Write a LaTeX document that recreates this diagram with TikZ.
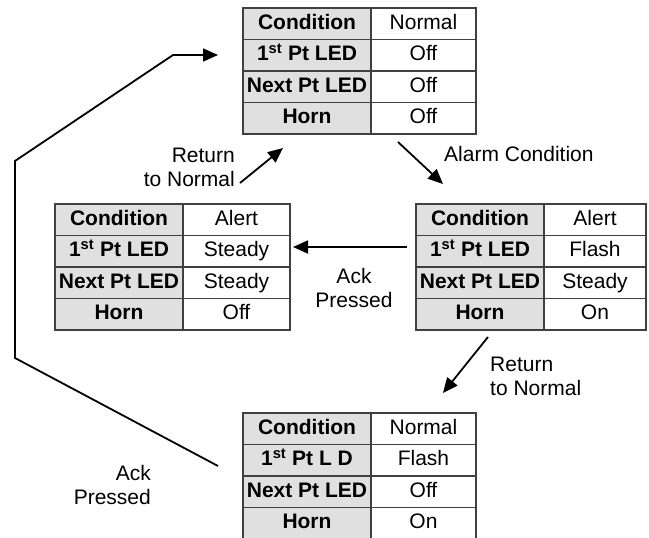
\documentclass[tikz,border=0pt]{standalone}
\usepackage{fontspec}
\setmainfont{Liberation Sans}
\usetikzlibrary{arrows.meta}
\definecolor{cellgray}{HTML}{E0E0E0}
\definecolor{rulegray}{HTML}{404040}
\newcommand\figfont{\fontsize{21}{24}\selectfont}
\tikzset{
  cellbase/.style={draw=rulegray, line width=1.4pt, minimum height=31.5pt,
    inner sep=0pt, outer sep=0pt, anchor=north west,
    text height=15pt, text depth=4.4pt},
  lcell/.style={cellbase, fill=cellgray, minimum width=128pt, font=\figfont\bfseries},
  rcell/.style={cellbase, fill=white, font=\figfont},
  conn/.style={line width=1.8pt, -{Triangle[length=15pt,width=13pt]}},
  lbl/.style={font=\figfont, inner sep=0pt},
}
% #1 name, #2 x, #3 y, #4 right width, #5 cond, #6 first label, #7 first, #8 next, #9 horn
\newcommand\statetable[9]{%
  \node[lcell] (#1-l1) at (#2,#3) {Condition};
  \node[rcell, minimum width=#4pt] (#1-r1) at (#1-l1.north east) {#5};
  \node[lcell] (#1-l2) at (#1-l1.south west) {#6};
  \node[rcell, minimum width=#4pt] (#1-r2) at (#1-l2.north east) {#7};
  \node[lcell] (#1-l3) at (#1-l2.south west) {Next Pt LED};
  \node[rcell, minimum width=#4pt] (#1-r3) at (#1-l3.north east) {#8};
  \node[lcell] (#1-l4) at (#1-l3.south west) {Horn};
  \node[rcell, minimum width=#4pt] (#1-r4) at (#1-l4.north east) {#9};
}
\begin{document}
\begin{tikzpicture}[x=1pt, y=-1pt]
\useasboundingbox (0,0) rectangle (649,538);

\statetable{top}{243}{8}{105}{Normal}{1\textsuperscript{st} Pt LED}{Off}{Off}{Off}
\statetable{left}{55}{204}{107}{Alert}{1\textsuperscript{st} Pt LED}{Steady}{Steady}{Off}
\statetable{right}{416}{204}{102}{Alert}{1\textsuperscript{st} Pt LED}{Flash}{Steady}{On}
\statetable{bot}{243}{413}{105}{Normal}{1\textsuperscript{st} Pt L D}{Flash}{Off}{On}

% connector end points
\coordinate (a1s) at (398,142);  \coordinate (a1e) at (443,184);
\coordinate (a2s) at (407,247);  \coordinate (a2e) at (293,247);
\coordinate (a3s) at (240,183);  \coordinate (a3e) at (283,148);
\coordinate (a4s) at (488,337);  \coordinate (a4e) at (443,393);
\coordinate (a5s) at (218,466);  \coordinate (a5b) at (15,358);
\coordinate (a5c) at (15,161);   \coordinate (a5d) at (173,55);
\coordinate (a5e) at (218,55);

\draw[conn] (a1s) -- (a1e);
\draw[conn] (a2s) -- (a2e);
\draw[conn] (a3s) -- (a3e);
\draw[conn] (a4s) -- (a4e);
\draw[conn] (a5s) -- (a5b) -- (a5c) -- (a5d) -- (a5e);

% labels
\node[lbl, anchor=west] (lab1) at (444,154) {Alarm Condition};
\node[lbl, align=right, anchor=east] (lab2) at (235,167) {Return\\to Normal};
\node[lbl, align=center] (lab3) at (354,288) {Ack\\Pressed};
\node[lbl, align=left, anchor=west] (lab4) at (490,376) {Return\\to Normal};
\node[lbl, align=right, anchor=east] (lab5) at (151,485) {Ack\\Pressed};
\end{tikzpicture}
\end{document}
